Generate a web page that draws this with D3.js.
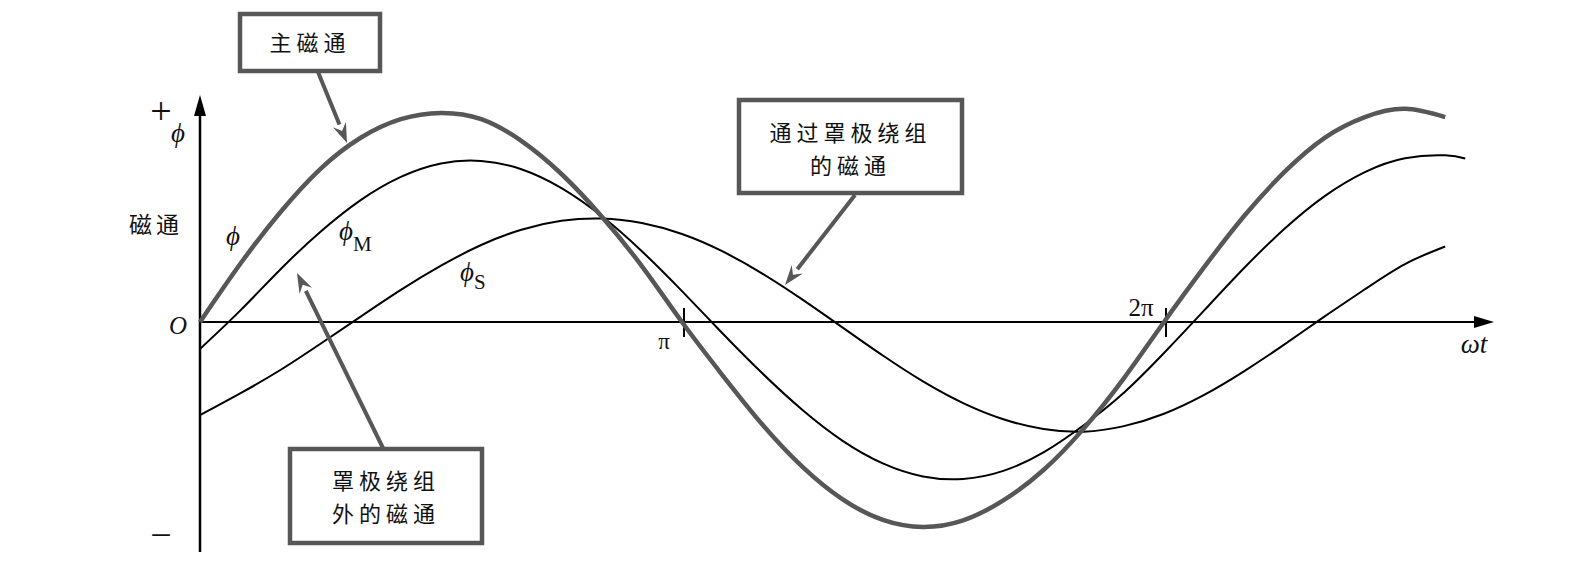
<!DOCTYPE html>
<html>
<head>
<meta charset="utf-8">
<script src="https://cdn.jsdelivr.net/npm/d3@7"></script>
<style>
  body { margin: 0; background: #fff; }
  .cjk { font-family: "Noto Sans CJK SC", sans-serif; fill: #111; }
  .sym { font-family: "Liberation Serif", "DejaVu Serif", serif; font-style: italic; fill: #111; }
  .num { font-family: "Liberation Serif", "DejaVu Serif", serif; fill: #111; }
</style>
</head>
<body>
<div id="chart"></div>
<script>
// ωt en multiples de π (pas de π/12), dernier point = fin de φM
const wt = [0, 1/12, 2/12, 3/12, 4/12, 5/12, 6/12, 7/12, 8/12, 9/12, 10/12, 11/12,
            1, 13/12, 14/12, 15/12, 16/12, 17/12, 18/12, 19/12, 20/12, 21/12, 22/12, 23/12,
            2, 25/12, 26/12, 27/12, 28/12, 29/12, 30/12, 31/12, 31.5/12];

// flux principal φ (trait gris épais)
const phiMain = [0, 0.28, 0.53, 0.74, 0.89, 0.98, 1.01, 0.98, 0.875, 0.715, 0.51, 0.27,
                 0, -0.255, -0.495, -0.70, -0.857, -0.956, -0.99, -0.958, -0.862, -0.715, -0.515, -0.272,
                 0, 0.265, 0.513, 0.725, 0.89, 0.99, 1.03, 0.99, null];

// flux hors de l'enroulement de pôle écranté φM
const phiM = [-0.13, 0.055, 0.254, 0.436, 0.589, 0.701, 0.766, 0.778, 0.738, 0.647, 0.512, 0.342,
              0.149, -0.053, -0.248, -0.425, -0.574, -0.683, -0.746, -0.758, -0.719, -0.630, -0.499, -0.342,
              -0.150, 0.056, 0.262, 0.450, 0.608, 0.724, 0.791, 0.805, 0.79];

// flux à travers l'enroulement de pôle écranté φS
const phiS = [-0.45, -0.345, -0.232, -0.105, 0.026, 0.155, 0.272, 0.372, 0.446, 0.489, 0.50, 0.478,
              0.425, 0.342, 0.234, 0.108, -0.027, -0.162, -0.287, -0.392, -0.470, -0.517, -0.530, -0.503,
              -0.443, -0.352, -0.237, -0.108, 0.027, 0.158, 0.280, 0.365, null];

const piTicks = [1, 2];
const piLabels = ["π", "2π"];

const width = 1573, height = 572;
const gray = "#575757";

const svg = d3.select("#chart").append("svg")
    .attr("width", width)
    .attr("height", height);

// échelles
const x = d3.scaleLinear().domain([0, 1]).range([200, 682]);
const y = d3.scaleLinear().domain([-1, 1]).range([529, 115]);

// axes
svg.append("line")
    .attr("x1", x(0)).attr("x2", 1478)
    .attr("y1", y(0)).attr("y2", y(0))
    .attr("stroke", "#000").attr("stroke-width", 2);
svg.append("path")
    .attr("d", `M1494,${y(0)} L1474,${y(0) - 6} L1474,${y(0) + 6} Z`)
    .attr("fill", "#000");

svg.append("line")
    .attr("x1", x(0)).attr("x2", x(0))
    .attr("y1", 552).attr("y2", 110)
    .attr("stroke", "#000").attr("stroke-width", 2.5);
svg.append("path")
    .attr("d", `M${x(0)},95 L${x(0) - 6},116 L${x(0) + 6},116 Z`)
    .attr("fill", "#000");

// graduations π et 2π
svg.selectAll(".tick")
    .data(piTicks)
  .enter().append("line")
    .attr("x1", d => x(d) + 2).attr("x2", d => x(d) + 2)
    .attr("y1", y(0) - 14).attr("y2", y(0) + 15)
    .attr("stroke", "#000").attr("stroke-width", 2);

svg.append("text").attr("class", "num")
    .attr("x", x(1) - 18).attr("y", 349)
    .attr("text-anchor", "middle").style("font-size", "23px")
    .text(piLabels[0]);
svg.append("text").attr("class", "num")
    .attr("x", x(2) - 23).attr("y", 316)
    .attr("text-anchor", "middle").style("font-size", "25px")
    .text(piLabels[1]);

// courbes
const rows = wt.map((t, i) => ({ t: t, main: phiMain[i], m: phiM[i], s: phiS[i] }));

function curve(key) {
    return d3.line()
        .defined(d => d[key] !== null)
        .x(d => x(d.t))
        .y(d => y(d[key]))
        .curve(d3.curveNatural);
}

svg.append("path").datum(rows)
    .attr("d", curve("s"))
    .attr("fill", "none").attr("stroke", "#000").attr("stroke-width", 2);
svg.append("path").datum(rows)
    .attr("d", curve("m"))
    .attr("fill", "none").attr("stroke", "#000").attr("stroke-width", 2);
svg.append("path").datum(rows)
    .attr("d", curve("main"))
    .attr("fill", "none").attr("stroke", gray).attr("stroke-width", 4.5);

// libellés des axes
svg.append("text").attr("class", "num")
    .attr("x", 161).attr("y", 124).attr("text-anchor", "middle")
    .style("font-size", "38px").style("font-weight", "300").text("+");
svg.append("text").attr("class", "sym")
    .attr("x", 178).attr("y", 142).attr("text-anchor", "middle")
    .style("font-size", "27px").text("ϕ");
svg.append("text").attr("class", "cjk")
    .attr("x", 156).attr("y", 233).attr("text-anchor", "middle")
    .style("font-size", "23px").style("letter-spacing", "4px").text("磁通");
svg.append("text").attr("class", "sym")
    .attr("x", 178).attr("y", 334).attr("text-anchor", "middle")
    .style("font-size", "25px").text("O");
svg.append("text").attr("class", "num")
    .attr("x", 161).attr("y", 548).attr("text-anchor", "middle")
    .style("font-size", "38px").text("−");
svg.append("text").attr("class", "sym")
    .attr("x", 1474).attr("y", 353).attr("text-anchor", "middle")
    .style("font-size", "27px").text("ωt");

// étiquettes des courbes
svg.append("text").attr("class", "sym")
    .attr("x", 233).attr("y", 245).attr("text-anchor", "middle")
    .style("font-size", "27px").text("ϕ");
const tM = svg.append("text").attr("class", "sym")
    .attr("x", 339).attr("y", 240).style("font-size", "27px");
tM.append("tspan").text("ϕ");
tM.append("tspan").style("font-style", "normal")
    .attr("dy", 11).style("font-size", "21px").text("M");
const tS = svg.append("text").attr("class", "sym")
    .attr("x", 460).attr("y", 281).style("font-size", "27px");
tS.append("tspan").text("ϕ");
tS.append("tspan").style("font-style", "normal")
    .attr("dy", 8).style("font-size", "21px").text("S");

// boîtes d'annotation avec flèches
function arrow(x1, y1, x2, y2) {
    const a = Math.atan2(y2 - y1, x2 - x1);
    const L = 20, W = 7;
    const bx = x2 - L * Math.cos(a), by = y2 - L * Math.sin(a);
    svg.append("line")
        .attr("x1", x1).attr("y1", y1).attr("x2", bx).attr("y2", by)
        .attr("stroke", gray).attr("stroke-width", 4);
    const p = [[x2, y2],
               [bx + W * Math.sin(a), by - W * Math.cos(a)],
               [bx + 0.35 * L * Math.cos(a), by + 0.35 * L * Math.sin(a)],
               [bx - W * Math.sin(a), by + W * Math.cos(a)]];
    svg.append("path").attr("d", "M" + p.join("L") + "Z").attr("fill", gray);
}

function box(x0, y0, w, h, lines, ly) {
    svg.append("rect")
        .attr("x", x0).attr("y", y0).attr("width", w).attr("height", h)
        .attr("fill", "#fff").attr("stroke", gray).attr("stroke-width", 4.5);
    lines.forEach((s, i) => {
        svg.append("text").attr("class", "cjk")
            .attr("x", x0 + w / 2).attr("y", ly[i])
            .attr("text-anchor", "middle")
            .style("font-size", "22px").style("letter-spacing", "5px")
            .text(s);
    });
}

arrow(318, 72, 347, 143);
box(240, 14, 140, 57, ["主磁通"], [51]);

arrow(855, 195, 785, 285);
box(739, 100, 223, 93, ["通过罩极绕组", "的磁通"], [141, 174]);

arrow(383, 448, 297, 273);
box(290, 449, 192, 94, ["罩极绕组", "外的磁通"], [489, 522]);
</script>
</body>
</html>
